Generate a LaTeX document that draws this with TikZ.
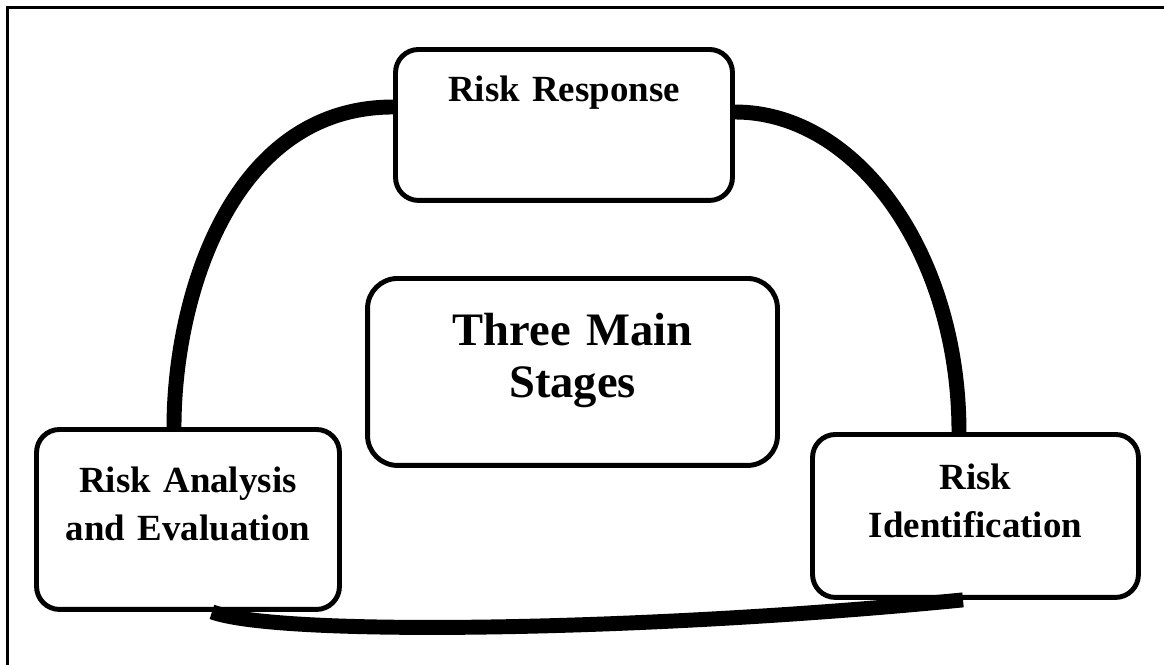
\documentclass[tikz,border=0pt]{standalone}
\usepackage{fontspec}
\setmainfont{Liberation Serif}
\usetikzlibrary{positioning}
\tikzset{
  stage/.style = {draw, line width=2.8pt, rounded corners=4.6mm, fill=white,
                  inner sep=0, align=center, anchor=north,
                  font=\fontsize{21}{27.3}\selectfont\bfseries},
  core/.style = {stage, rounded corners=6mm,
                 font=\fontsize{26.5}{29.6}\selectfont\bfseries},
  link/.style = {draw, line width=8.5pt},
  frame/.style = {draw, line width=1.2pt},
}
\begin{document}
\begin{tikzpicture}[x=0.02cm,y=-0.02cm]
\useasboundingbox (0,0) rectangle (1164,664);
\draw[frame] (7.5,680) -- (7.5,7.5) -- (1180,7.5);
\node[stage, text width=6.74cm, text height=1.05cm, text depth=1.97cm]
  (resp) at (564,47) {Risk Response};
\node[core, text width=8.2cm, text height=1.35cm, text depth=2.39cm]
  (core) at (572.5,276) {Three Main\\Stages};
\node[stage, text width=6.06cm, text height=1.27cm, text depth=2.33cm]
  (ana) at (188,427) {Risk Analysis\\and Evaluation};
\node[stage, text width=6.52cm, text height=1.11cm, text depth=2.15cm]
  (ident) at (975.5,432) {Risk\\Identification};
% the cycle
\path[link] ([yshift=-1.2cm]resp.north west)
    .. controls +(-163,0) and +(0,-128) .. ([xshift=-0.28cm]ana.north);
\path[link] ([yshift=-1.3cm]resp.north east)
    .. controls +(123,0) and +(0,-177) .. ([xshift=-0.33cm]ident.north);
\path[link] ([xshift=0.48cm]ana.south)
    .. controls +(68,25) and +(-313,31) .. ([xshift=-0.25cm]ident.south);
\end{tikzpicture}
\end{document}
